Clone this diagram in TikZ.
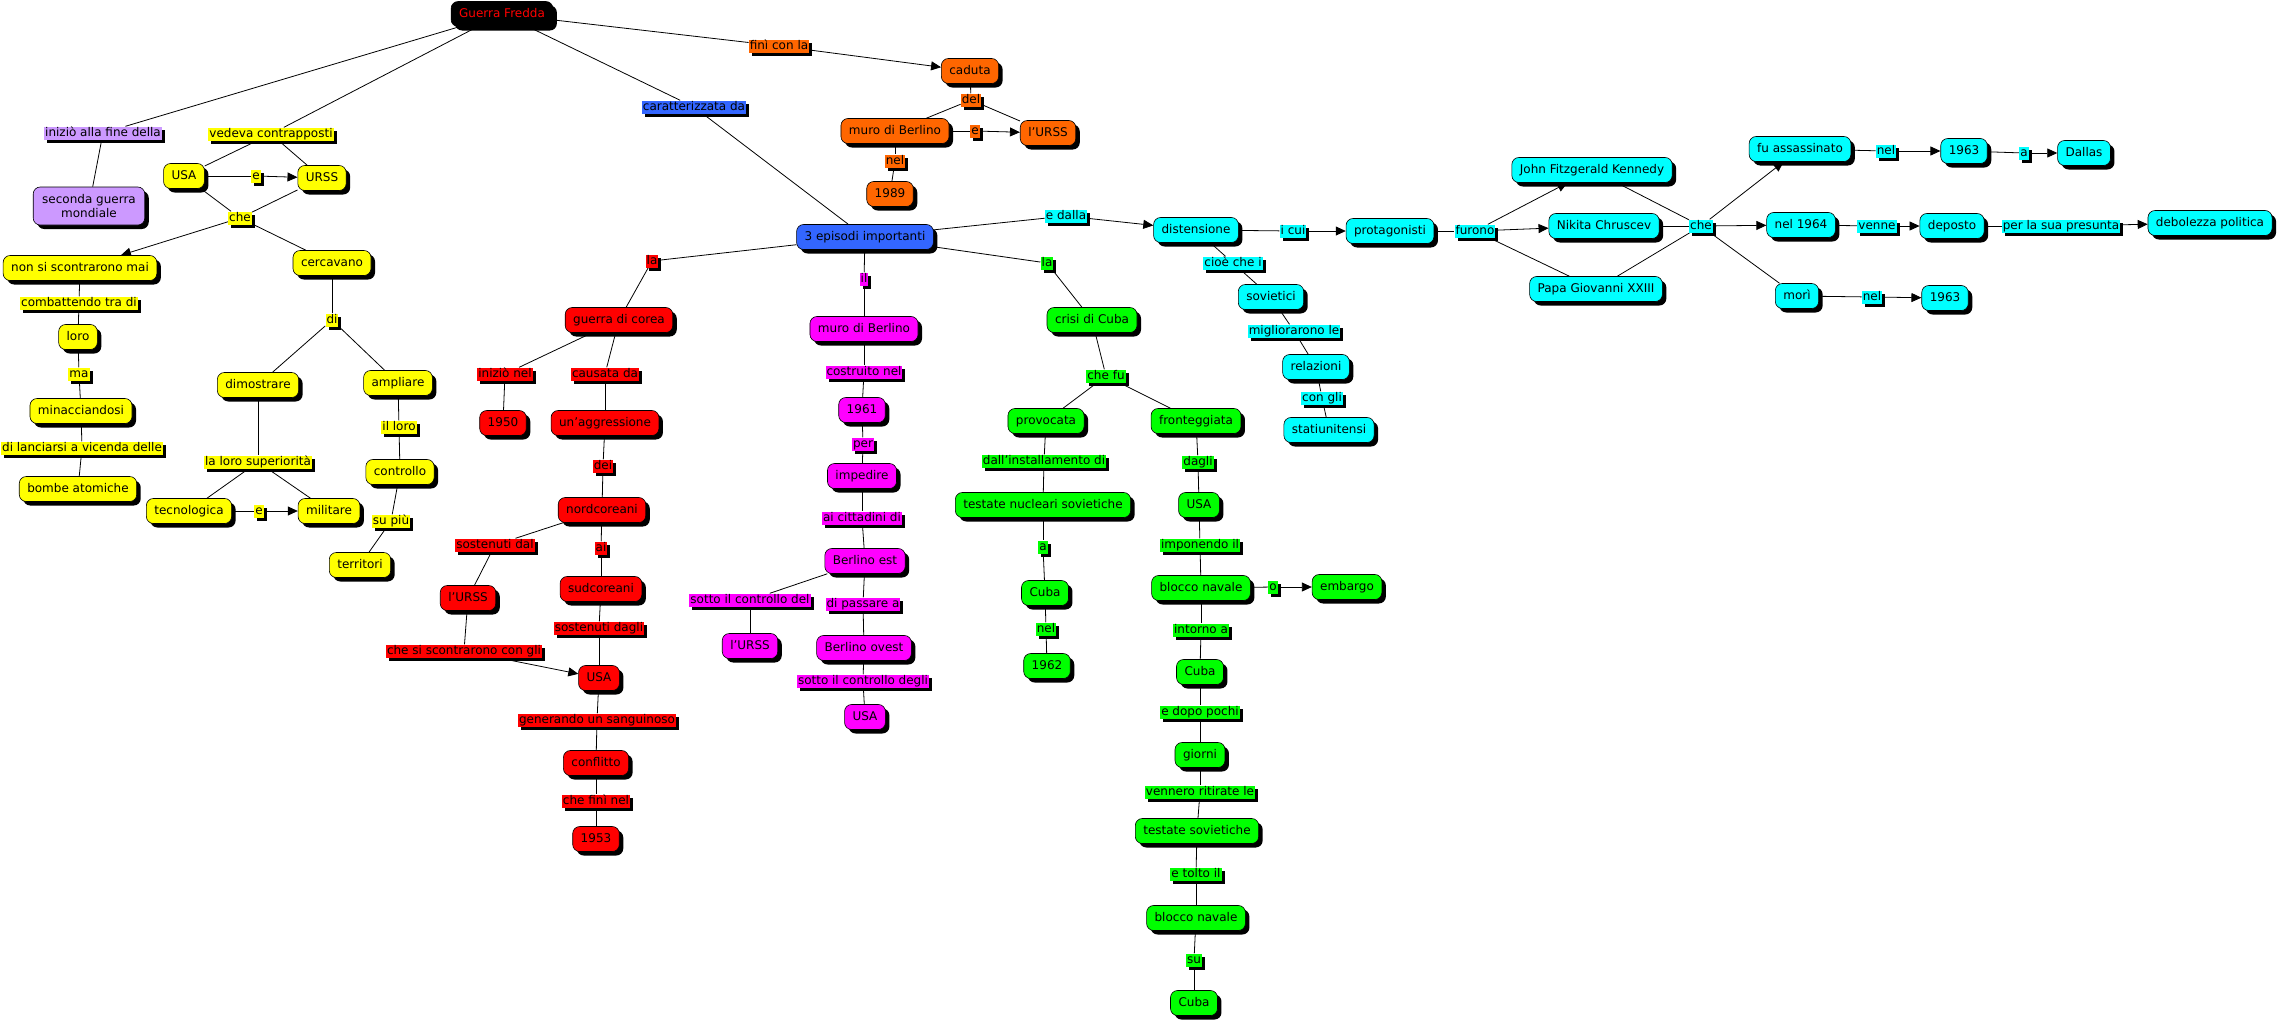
\documentclass[tikz,border=0pt]{standalone}
\usepackage{fontspec}
\setmainfont{DejaVu Sans}
\usetikzlibrary{shadows,arrows.meta}
\pgfdeclarelayer{bg}
\pgfsetlayers{bg,main}
\definecolor{cYel}{HTML}{FFFF00}
\definecolor{cVio}{HTML}{CC99FF}
\definecolor{cBlu}{HTML}{3366FF}
\definecolor{cOra}{HTML}{FF6600}
\definecolor{cRed}{HTML}{FF0000}
\definecolor{cMag}{HTML}{FF00FF}
\definecolor{cGre}{HTML}{00FF00}
\definecolor{cCya}{HTML}{00FFFF}
\newcommand\myfs{\fontsize{12}{14}\selectfont}
\newcommand\cl[2]{\draw[ln] (#1) -- (#2);}
\newcommand\ca[2]{\draw[ar] (#1) -- (#2);}
\begin{document}
\begin{tikzpicture}[x=1pt,y=-1pt,
  cn/.style={draw=black, line width=0.6pt, rounded corners=7pt, fill=#1, font=\myfs, inner xsep=8pt, inner ysep=0pt, minimum height=25pt, text height=9pt, text depth=3pt, drop shadow={shadow xshift=4pt, shadow yshift=-4pt, fill=black, opacity=1}},
  lk/.style={fill=#1, font=\myfs, inner xsep=1pt, inner ysep=0.5pt, text height=9pt, text depth=3pt, drop shadow={shadow xshift=3pt, shadow yshift=-3pt, fill=black, opacity=1}},
  ln/.style={line width=0.8pt},
  ar/.style={line width=0.8pt, -{Triangle[length=10pt,width=9pt]}}]
\useasboundingbox (0,0) rectangle (2278,1021);
% ---------- top / yellow / violet ----------
\node[cn=black, text=red] (gf) at (502,14) {Guerra Fredda};
\node[lk=cVio] (iniz) at (103,133) {iniziò alla fine della};
\node[cn=cVio, align=center, text height={}, text depth={}, minimum height=38pt, inner xsep=9pt] (sgm) at (89,206) {seconda guerra\\mondiale};
\node[lk=cYel] (vc) at (271,134) {vedeva contrapposti};
\node[cn=cYel] (usa1) at (184,176) {USA};
\node[lk=cYel] (e1) at (256,176) {e};
\node[cn=cYel] (urss1) at (322,178) {URSS};
\node[lk=cYel] (che1) at (240,218) {che};
\node[cn=cYel] (nsm) at (80,268) {non si scontrarono mai};
\node[cn=cYel] (cerc) at (332,263) {cercavano};
\node[lk=cYel] (ctd) at (79,303) {combattendo tra di};
\node[lk=cYel] (di1) at (332,320) {di};
\node[cn=cYel] (loro) at (78,337) {loro};
\node[lk=cYel] (ma) at (79,374) {ma};
\node[cn=cYel] (minac) at (81,411) {minacciandosi};
\node[lk=cYel] (dlav) at (82,448) {di lanciarsi a vicenda delle};
\node[cn=cYel] (bomb) at (78,489) {bombe atomiche};
\node[cn=cYel] (dimo) at (258,385) {dimostrare};
\node[cn=cYel] (ampl) at (398,383) {ampliare};
\node[lk=cYel] (illoro) at (399,427) {il loro};
\node[cn=cYel] (contr) at (400,472) {controllo};
\node[lk=cYel] (lls) at (258,462) {la loro superiorità};
\node[cn=cYel] (tecn) at (189,511) {tecnologica};
\node[lk=cYel] (e2) at (259,511) {e};
\node[cn=cYel] (milit) at (329,511) {militare};
\node[lk=cYel] (supiu) at (391,521) {su più};
\node[cn=cYel] (terr) at (360,565) {territori};
% ---------- blue / orange ----------
\node[lk=cBlu] (cara) at (694,107) {caratterizzata da};
\node[cn=cBlu] (epi) at (865,237) {3 episodi importanti};
\node[lk=cOra] (fcl) at (779,46) {finì con la};
\node[cn=cOra] (cad) at (970,71) {caduta};
\node[lk=cOra] (del) at (971,100) {del};
\node[cn=cOra] (murO) at (895,131) {muro di Berlino};
\node[lk=cOra] (e3) at (975,131) {e};
\node[cn=cOra] (urssO) at (1048,133) {l'URSS};
\node[lk=cOra] (nelO) at (895,161) {nel};
\node[cn=cOra] (y1989) at (890,194) {1989};
% ---------- red ----------
\node[lk=cRed] (la1) at (652,261) {la};
\node[cn=cRed] (gdc) at (619,320) {guerra di corea};
\node[lk=cRed] (inel) at (505,374) {iniziò nel};
\node[lk=cRed] (caus) at (605,374) {causata da};
\node[cn=cRed] (y1950) at (503,423) {1950};
\node[cn=cRed] (aggr) at (605,423) {un'aggressione};
\node[lk=cRed] (dei) at (603,466) {dei};
\node[cn=cRed] (nord) at (602,510) {nordcoreani};
\node[lk=cRed] (sdal) at (495,545) {sostenuti dal};
\node[lk=cRed] (ai) at (601,548) {ai};
\node[cn=cRed] (urssR) at (468,598) {l'URSS};
\node[cn=cRed] (sud) at (601,589) {sudcoreani};
\node[lk=cRed] (sdagli) at (599,628) {sostenuti dagli};
\node[lk=cRed] (sscg) at (464,651) {che si scontrarono con gli};
\node[cn=cRed] (usaR) at (599,678) {USA};
\node[lk=cRed] (gus) at (597,720) {generando un sanguinoso};
\node[cn=cRed] (confl) at (596,763) {conflitto};
\node[lk=cRed] (cfn) at (596,801) {che finì nel};
\node[cn=cRed] (y1953) at (596,839) {1953};
% ---------- magenta ----------
\node[lk=cMag] (il) at (864,279) {il};
\node[cn=cMag] (murM) at (864,329) {muro di Berlino};
\node[lk=cMag] (costr) at (864,372) {costruito nel};
\node[cn=cMag] (y1961) at (862,410) {1961};
\node[lk=cMag] (per) at (863,444) {per};
\node[cn=cMag] (imped) at (862,476) {impedire};
\node[lk=cMag] (acd) at (862,518) {ai cittadini di};
\node[cn=cMag] (best) at (865,561) {Berlino est};
\node[lk=cMag] (sicd) at (750,600) {sotto il controllo del};
\node[lk=cMag] (dpa) at (863,604) {di passare a};
\node[cn=cMag] (urssM) at (750,646) {l'URSS};
\node[cn=cMag] (bovest) at (864,648) {Berlino ovest};
\node[lk=cMag] (sicdg) at (863,681) {sotto il controllo degli};
\node[cn=cMag] (usaM) at (865,717) {USA};
% ---------- green ----------
\node[lk=cGre] (la2) at (1047,263) {la};
\node[cn=cGre] (cdc) at (1092,320) {crisi di Cuba};
\node[lk=cGre] (chefu) at (1106,376) {che fu};
\node[cn=cGre] (prov) at (1046,421) {provocata};
\node[cn=cGre] (front) at (1196,421) {fronteggiata};
\node[lk=cGre] (dall) at (1044,461) {dall'installamento di};
\node[lk=cGre] (dagli) at (1198,462) {dagli};
\node[cn=cGre] (tns) at (1043,505) {testate nucleari sovietiche};
\node[cn=cGre] (usaG) at (1199,505) {USA};
\node[lk=cGre] (aG) at (1043,547) {a};
\node[lk=cGre] (imp) at (1200,545) {imponendo il};
\node[cn=cGre] (cuba1) at (1045,593) {Cuba};
\node[cn=cGre] (bn1) at (1201,588) {blocco navale};
\node[lk=cGre] (oG) at (1273,587) {o};
\node[cn=cGre] (emb) at (1347,587) {embargo};
\node[lk=cGre] (nelG) at (1046,629) {nel};
\node[lk=cGre] (inta) at (1201,630) {intorno a};
\node[cn=cGre] (y1962) at (1047,666) {1962};
\node[cn=cGre] (cuba2) at (1200,672) {Cuba};
\node[lk=cGre] (edp) at (1200,712) {e dopo pochi};
\node[cn=cGre] (giorni) at (1200,755) {giorni};
\node[lk=cGre] (vrl) at (1200,792) {vennero ritirate le};
\node[cn=cGre] (tsov) at (1197,831) {testate sovietiche};
\node[lk=cGre] (etil) at (1196,874) {e tolto il};
\node[cn=cGre] (bn2) at (1196,918) {blocco navale};
\node[lk=cGre] (su) at (1194,960) {su};
\node[cn=cGre] (cuba3) at (1194,1003) {Cuba};
% ---------- cyan ----------
\node[lk=cCya] (edalla) at (1066,216) {e dalla};
\node[cn=cCya] (dist) at (1196,230) {distensione};
\node[lk=cCya] (icui) at (1293,231) {i cui};
\node[cn=cCya] (prot) at (1390,231) {protagonisti};
\node[lk=cCya] (cci) at (1233,263) {cioè che i};
\node[cn=cCya] (sov) at (1271,297) {sovietici};
\node[lk=cCya] (mle) at (1294,331) {migliorarono le};
\node[cn=cCya] (rel) at (1316,367) {relazioni};
\node[lk=cCya] (cong) at (1322,398) {con gli};
\node[cn=cCya] (stat) at (1329,430) {statiunitensi};
\node[lk=cCya] (fur) at (1475,231) {furono};
\node[cn=cCya] (jfk) at (1592,170) {John Fitzgerald Kennedy};
\node[cn=cCya] (nik) at (1604,226) {Nikita Chruscev};
\node[cn=cCya] (papa) at (1596,289) {Papa Giovanni XXIII};
\node[lk=cCya] (cheC) at (1701,226) {che};
\node[cn=cCya] (fua) at (1800,149) {fu assassinato};
\node[cn=cCya] (n64) at (1801,225) {nel 1964};
\node[cn=cCya] (mori) at (1797,296) {morì};
\node[lk=cCya] (nel1) at (1886,151) {nel};
\node[cn=cCya] (y63a) at (1964,151) {1963};
\node[lk=cCya] (aC) at (2024,153) {a};
\node[cn=cCya] (dal) at (2084,153) {Dallas};
\node[lk=cCya] (venne) at (1877,226) {venne};
\node[cn=cCya] (dep) at (1952,226) {deposto};
\node[lk=cCya] (pls) at (2061,226) {per la sua presunta};
\node[cn=cCya] (deb) at (2210,223) {debolezza politica};
\node[lk=cCya] (nel2) at (1872,297) {nel};
\node[cn=cCya] (y63b) at (1945,298) {1963};
% ---------- connectors ----------
\begin{pgfonlayer}{bg}
\fill[white] (0,0) rectangle (2278,1021);
\cl{gf}{iniz} \cl{iniz}{sgm}
\cl{gf}{vc} \cl{vc}{usa1} \cl{vc}{urss1}
\cl{usa1}{e1} \ca{e1}{urss1}
\cl{usa1}{che1} \cl{urss1}{che1} \ca{che1}{nsm} \cl{che1}{cerc}
\cl{nsm}{ctd} \cl{ctd}{loro} \cl{loro}{ma} \cl{ma}{minac} \cl{minac}{dlav} \cl{dlav}{bomb}
\cl{cerc}{di1} \cl{di1}{dimo} \cl{di1}{ampl}
\cl{dimo}{lls} \cl{lls}{tecn} \cl{lls}{milit}
\cl{tecn}{e2} \ca{e2}{milit}
\cl{ampl}{illoro} \cl{illoro}{contr} \cl{contr}{supiu} \cl{supiu}{terr}
\cl{gf}{cara} \cl{cara}{epi}
\cl{gf}{fcl} \ca{fcl}{cad}
\cl{cad}{del} \cl{del}{murO} \cl{del}{urssO}
\cl{murO}{e3} \ca{e3}{urssO}
\cl{murO}{nelO} \cl{nelO}{y1989}
\cl{epi}{la1} \cl{la1}{gdc}
\cl{gdc}{inel} \cl{inel}{y1950}
\cl{gdc}{caus} \cl{caus}{aggr} \cl{aggr}{dei} \cl{dei}{nord}
\cl{nord}{sdal} \cl{sdal}{urssR} \cl{urssR}{sscg} \ca{sscg}{usaR}
\cl{nord}{ai} \cl{ai}{sud} \cl{sud}{sdagli} \cl{sdagli}{usaR}
\cl{usaR}{gus} \cl{gus}{confl} \cl{confl}{cfn} \cl{cfn}{y1953}
\cl{epi}{il} \cl{il}{murM} \cl{murM}{costr} \cl{costr}{y1961} \cl{y1961}{per} \cl{per}{imped}
\cl{imped}{acd} \cl{acd}{best}
\cl{best}{sicd} \cl{sicd}{urssM}
\cl{best}{dpa} \cl{dpa}{bovest} \cl{bovest}{sicdg} \cl{sicdg}{usaM}
\cl{epi}{la2} \cl{la2}{cdc} \cl{cdc}{chefu} \cl{chefu}{prov} \cl{chefu}{front}
\cl{prov}{dall} \cl{dall}{tns} \cl{tns}{aG} \cl{aG}{cuba1} \cl{cuba1}{nelG} \cl{nelG}{y1962}
\cl{front}{dagli} \cl{dagli}{usaG} \cl{usaG}{imp} \cl{imp}{bn1}
\cl{bn1}{oG} \ca{oG}{emb}
\cl{bn1}{inta} \cl{inta}{cuba2} \cl{cuba2}{edp} \cl{edp}{giorni} \cl{giorni}{vrl} \cl{vrl}{tsov}
\cl{tsov}{etil} \cl{etil}{bn2} \cl{bn2}{su} \cl{su}{cuba3}
\cl{epi}{edalla} \ca{edalla}{dist}
\cl{dist}{icui} \ca{icui}{prot}
\cl{dist}{cci} \cl{cci}{sov} \cl{sov}{mle} \cl{mle}{rel} \cl{rel}{cong} \cl{cong}{stat}
\cl{prot}{fur} \ca{fur}{jfk} \ca{fur}{nik} \cl{fur}{papa}
\cl{jfk}{cheC} \cl{nik}{cheC} \cl{papa}{cheC}
\ca{cheC}{fua} \ca{cheC}{n64} \cl{cheC}{mori}
\cl{fua}{nel1} \ca{nel1}{y63a} \cl{y63a}{aC} \ca{aC}{dal}
\cl{n64}{venne} \ca{venne}{dep} \cl{dep}{pls} \ca{pls}{deb}
\cl{mori}{nel2} \ca{nel2}{y63b}
\end{pgfonlayer}
\end{tikzpicture}
\end{document}
